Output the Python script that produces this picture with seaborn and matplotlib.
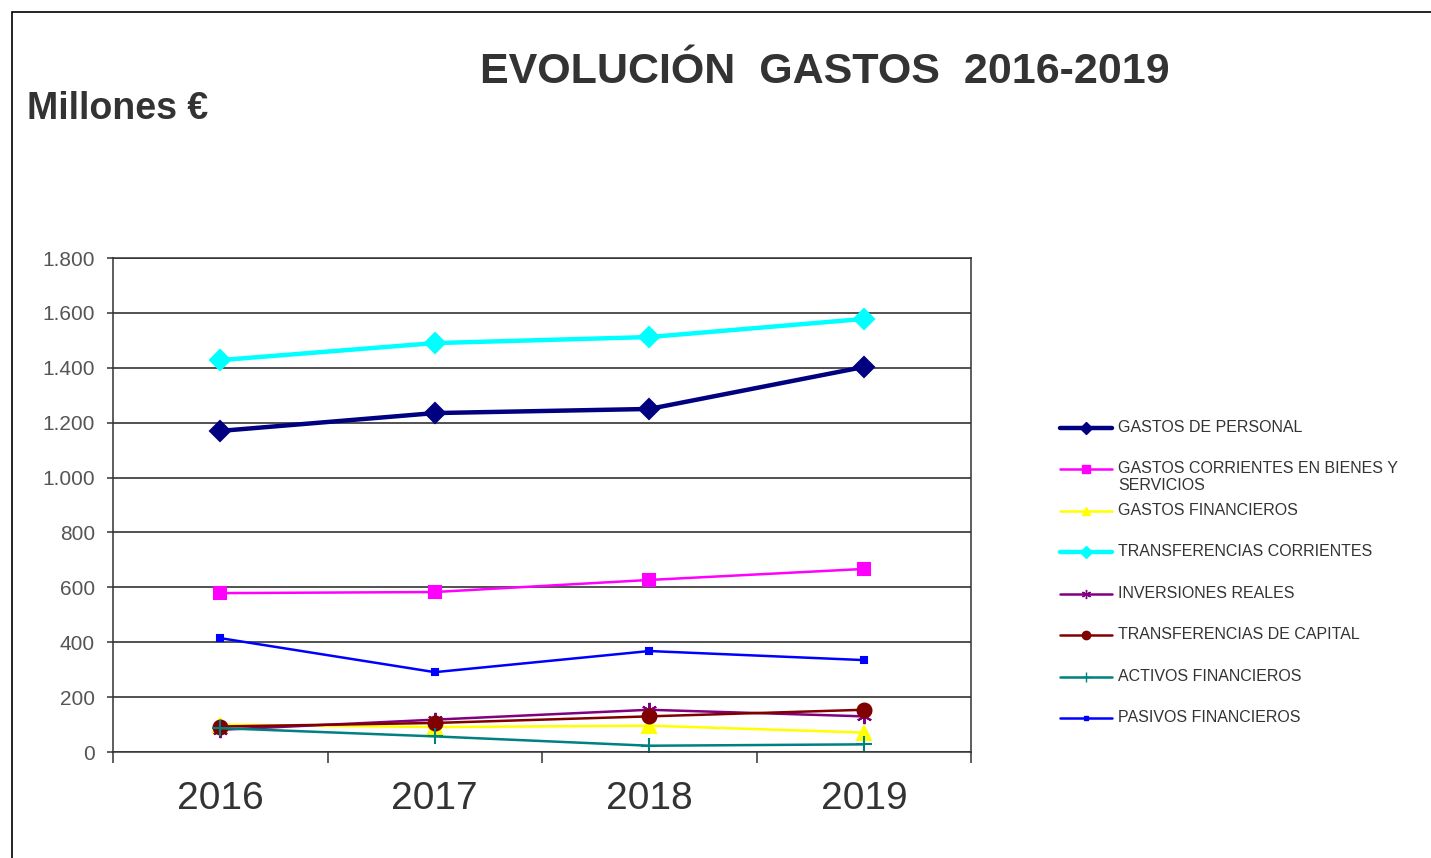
import matplotlib.pyplot as plt
import matplotlib.ticker as mticker
from matplotlib.lines import Line2D
from matplotlib.patches import Rectangle
import seaborn as sns
import pandas as pd

# Datos (millones de euros)
years = ["2016", "2017", "2018", "2019"]
series_names = [
    "GASTOS DE PERSONAL",
    "GASTOS CORRIENTES EN BIENES Y\nSERVICIOS",
    "GASTOS FINANCIEROS",
    "TRANSFERENCIAS CORRIENTES",
    "INVERSIONES REALES",
    "TRANSFERENCIAS DE CAPITAL",
    "ACTIVOS FINANCIEROS",
    "PASIVOS FINANCIEROS",
]
gastos_personal = [1170, 1235, 1250, 1403]
gastos_corrientes = [579, 583, 627, 667]
gastos_financieros = [100, 91, 96, 71]
transf_corrientes = [1428, 1490, 1512, 1578]
inversiones_reales = [81, 118, 154, 130]
transf_capital = [93, 106, 130, 154]
activos_financieros = [87, 57, 23, 28]
pasivos_financieros = [415, 291, 368, 335]

values = [gastos_personal, gastos_corrientes, gastos_financieros, transf_corrientes,
          inversiones_reales, transf_capital, activos_financieros, pasivos_financieros]

# Estilo de cada serie: color, marcador, tamaño de marcador, grosor de línea
styles = [
    ("#000080", "D", 10, 3.2),
    ("#FF00FF", "s", 9, 1.8),
    ("#FFFF00", "^", 10, 1.8),
    ("#00FFFF", "D", 10, 3.2),
    ("#800080", (6, 2, 0), 11, 1.8),
    ("#800000", "o", 10, 1.8),
    ("#008080", "+", 11, 1.8),
    ("#0000FF", "s", 4, 1.8),
]

df = pd.DataFrame({
    "Año": years * len(series_names),
    "Serie": [n for n in series_names for _ in years],
    "Valor": [v for vals in values for v in vals],
})

sns.set_style("white")
plt.rcParams["font.family"] = ["Liberation Sans", "DejaVu Sans"]

fig = plt.figure(figsize=(14.31, 8.58), dpi=100)
ax = fig.add_axes([0.0790, 0.1235, 0.5996, 0.5758])

for name, (color, marker, ms, lw) in zip(series_names, styles):
    sub = df[df["Serie"] == name]
    sns.lineplot(data=sub, x="Año", y="Valor", ax=ax, color=color, marker=marker,
                 markersize=ms, linewidth=lw, markeredgecolor=color,
                 markeredgewidth=1.5, legend=False)

ax.set_xlim(-0.5, 3.5)
ax.set_ylim(0, 1800)
ax.yaxis.set_major_locator(mticker.MultipleLocator(200))
ax.yaxis.set_major_formatter(mticker.FuncFormatter(lambda v, p: f"{int(v):,}".replace(",", ".")))
ax.xaxis.set_minor_locator(mticker.FixedLocator([-0.5, 0.5, 1.5, 2.5, 3.5]))
ax.grid(True, axis="y", color="#222222", linewidth=1.1)
ax.set_axisbelow(True)
ax.set_xlabel("")
ax.set_ylabel("")

for side in ["left", "bottom", "right", "top"]:
    ax.spines[side].set_visible(True)
    ax.spines[side].set_color("#333333")
    ax.spines[side].set_linewidth(1.1)

ax.tick_params(axis="x", which="major", length=0, pad=21, labelsize=28, labelcolor="#333333")
ax.tick_params(axis="x", which="minor", bottom=True, direction="out", length=8,
               width=1.1, color="#333333")
ax.tick_params(axis="y", which="major", left=True, direction="out", length=4, width=1.1,
               color="#333333", pad=9, labelsize=15, labelcolor="#555555")

# Títulos
fig.text(0.5765, 0.916, "EVOLUCIÓN  GASTOS  2016-2019", ha="center", va="center",
         fontsize=31, fontweight="bold", color="#333333")
fig.text(0.019, 0.873, "Millones €", ha="left", va="center",
         fontsize=27, fontweight="bold", color="#333333")

# Leyenda dibujada a mano para conservar el espaciado uniforme del original
legend_y = [428, 469, 511, 552, 594, 635, 677, 718]
for name, (color, marker, ms, lw), ly in zip(series_names, styles, legend_y):
    yf = 1 - ly / 858
    fig.add_artist(Line2D([1060 / 1431, 1112 / 1431], [yf, yf], transform=fig.transFigure,
                          color=color, linewidth=lw))
    fig.add_artist(Line2D([1086 / 1431], [yf], transform=fig.transFigure, color=color,
                          marker=marker, markersize=ms * 0.6, markeredgecolor=color,
                          linestyle="none"))
    fig.text(1118 / 1431, yf + 0.0095, name, ha="left", va="top", fontsize=11.5,
             color="#333333", linespacing=1.15)

# Marco exterior
fig.add_artist(Rectangle((12 / 1431, -0.05), 1.0, 1.05 - 12 / 858, transform=fig.transFigure,
                         fill=False, edgecolor="black", linewidth=1.2))

fig.savefig("out.png", dpi=100)
